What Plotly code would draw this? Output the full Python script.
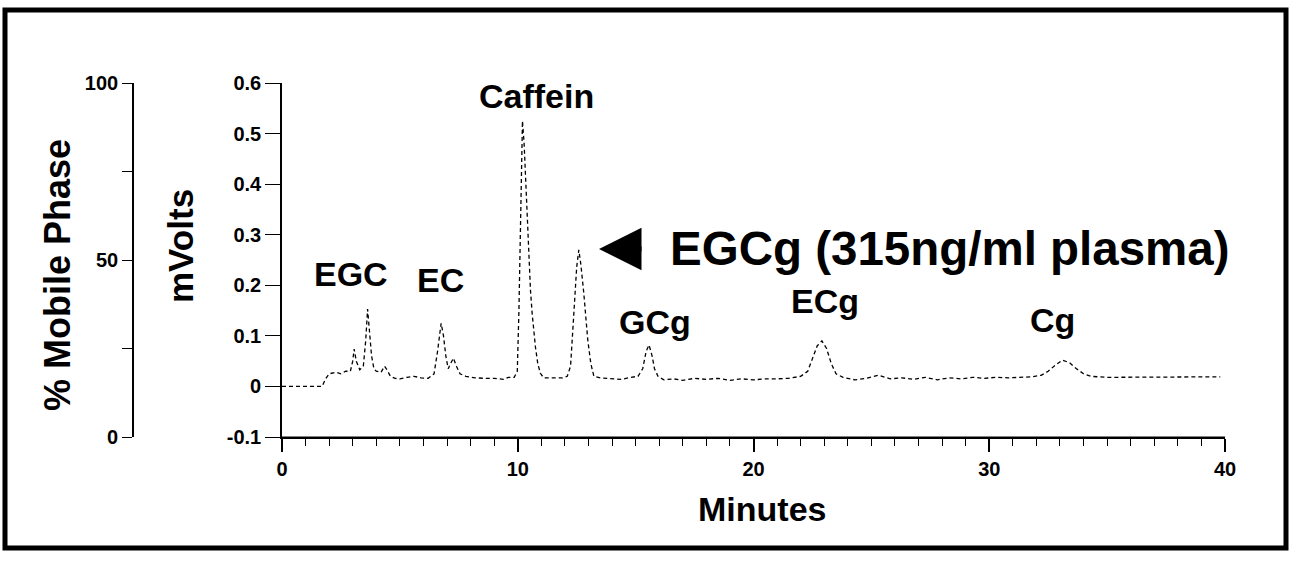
import plotly.graph_objects as go

# ---- data ----
time_min = [0, 1.7, 1.85, 2.0, 2.3, 2.5, 2.7, 2.9, 3.0, 3.06, 3.15, 3.3, 3.45, 3.55, 3.63, 3.7, 3.8, 3.9,
            4.0, 4.2, 4.35, 4.45, 4.6, 4.8, 5.0, 5.3, 5.6, 5.9, 6.2, 6.45, 6.6, 6.75, 6.85, 6.95, 7.05,
            7.15, 7.27, 7.4, 7.55, 7.8, 8.2, 8.6, 9.0, 9.4, 9.6, 9.85, 9.98, 10.05, 10.12, 10.2, 10.27,
            10.33, 10.4, 10.47, 10.54, 10.61, 10.68, 10.75, 10.85, 10.96, 11.1, 11.5, 11.9, 12.1, 12.24,
            12.38, 12.5, 12.59, 12.68, 12.8, 12.97, 13.1, 13.23, 13.5, 14.0, 14.4, 14.8, 15.1, 15.3,
            15.45, 15.57, 15.7, 15.8, 15.95, 16.2, 16.6, 17.0, 17.5, 18.0, 18.5, 19.0, 19.5, 20.0,
            20.5, 21.0, 21.5, 22.0, 22.3, 22.5, 22.7, 22.9, 23.1, 23.3, 23.5, 23.8, 24.3, 24.8, 25.3,
            25.8, 26.3, 26.8, 27.3, 27.8, 28.3, 28.8, 29.3, 29.8, 30.3, 30.8, 31.3, 31.8, 32.2, 32.5,
            32.8, 33.1, 33.4, 33.7, 34.0, 34.3, 35.0, 36.0, 37.0, 38.0, 39.0, 39.8]
mvolts = [0.0, 0.0, 0.015, 0.025, 0.028, 0.025, 0.03, 0.03, 0.05, 0.074, 0.05, 0.033, 0.04, 0.09, 0.153,
          0.12, 0.06, 0.035, 0.03, 0.028, 0.04, 0.033, 0.02, 0.016, 0.015, 0.018, 0.02, 0.017, 0.016,
          0.025, 0.07, 0.125, 0.1, 0.06, 0.035, 0.045, 0.056, 0.04, 0.025, 0.02, 0.017, 0.016, 0.016,
          0.014, 0.018, 0.018, 0.03, 0.15, 0.35, 0.525, 0.48, 0.41, 0.32, 0.244, 0.19, 0.145, 0.11,
          0.078, 0.045, 0.026, 0.017, 0.017, 0.017, 0.02, 0.04, 0.145, 0.236, 0.27, 0.24, 0.185, 0.092,
          0.045, 0.02, 0.017, 0.016, 0.014, 0.018, 0.02, 0.035, 0.07, 0.082, 0.06, 0.035, 0.02, 0.013,
          0.015, 0.012, 0.016, 0.014, 0.016, 0.012, 0.015, 0.013, 0.015, 0.015, 0.016, 0.02, 0.03,
          0.055, 0.08, 0.09, 0.075, 0.045, 0.025, 0.018, 0.013, 0.016, 0.022, 0.015, 0.017, 0.014,
          0.018, 0.013, 0.017, 0.015, 0.018, 0.016, 0.018, 0.017, 0.018, 0.019, 0.022, 0.03, 0.042,
          0.052, 0.047, 0.035, 0.025, 0.02, 0.018, 0.018, 0.019, 0.019, 0.019, 0.019]

mobile_time = [0, 40]
mobile_pct = [0, 0]

mv_ticks = [-0.1, 0, 0.1, 0.2, 0.3, 0.4, 0.5, 0.6]
mv_labels = ["-0.1", "0", "0.1", "0.2", "0.3", "0.4", "0.5", "0.6"]
pct_ticks = [0, 25, 50, 75, 100]
pct_labels = ["0", "", "50", "", "100"]
x_ticks = [0, 10, 20, 30, 40]

peak_labels = ["EGC", "EC", "Caffein", "GCg", "ECg", "Cg"]
# label placement in pixel space (x, y centre)
peak_label_px = [(351, 274), (440, 280), (536, 96), (655, 322), (825, 301), (1052, 320)]

W, H = 1291, 562
FONT = "Liberation Sans, Arial, Helvetica, sans-serif"

def px(x):
    return x / W

def py(y):
    return 1 - y / H

fig = go.Figure()
fig.add_trace(go.Scatter(x=time_min, y=mvolts, mode="lines",
                         line=dict(color="black", width=1.3, dash="4px,3px"),
                         showlegend=False, hoverinfo="skip"))
fig.add_trace(go.Scatter(x=mobile_time, y=mobile_pct, yaxis="y2", mode="lines",
                         line=dict(color="black", width=1),
                         showlegend=False, hoverinfo="skip"))

tickfont = dict(family=FONT, size=20, color="black", weight="bold")

fig.update_layout(
    width=W, height=H, autosize=False,
    margin=dict(l=0, r=0, t=0, b=0, pad=0),
    paper_bgcolor="white", plot_bgcolor="white",
    xaxis=dict(domain=[px(282), px(1225)], range=[0, 40], tickvals=x_ticks,
               ticks="outside", ticklen=13, tickwidth=1.6, tickcolor="black",
               minor=dict(dtick=1, ticks="outside", ticklen=7, tickwidth=1.2, tickcolor="black"),
               showline=True, linecolor="black", linewidth=1.8, showgrid=False,
               zeroline=False, tickfont=tickfont, anchor="y", automargin=False),
    yaxis=dict(domain=[py(437), py(83)], range=[-0.1, 0.6], tickvals=mv_ticks, ticktext=mv_labels,
               ticks="outside", ticklen=15, tickwidth=1.3, tickcolor="black",
               showline=True, linecolor="black", linewidth=1.6, showgrid=False,
               zeroline=False, tickfont=tickfont, anchor="x", automargin=False),
    yaxis2=dict(overlaying="y", anchor="free", position=px(133), side="left",
                range=[0, 100], tickvals=pct_ticks, ticktext=pct_labels,
                ticks="outside", ticklen=10, tickwidth=1.3, tickcolor="black",
                showline=True, linecolor="black", linewidth=1.6, showgrid=False,
                zeroline=False, tickfont=tickfont, automargin=False),
)

annotations = []
for lab, (lx, ly) in zip(peak_labels, peak_label_px):
    annotations.append(dict(x=px(lx), y=py(ly), xref="paper", yref="paper", text=lab,
                            showarrow=False, xanchor="center", yanchor="middle",
                            font=dict(family=FONT, size=34, color="black", weight="bold")))

annotations += [
    dict(x=px(762), y=py(509), xref="paper", yref="paper", text="Minutes", showarrow=False,
         xanchor="center", yanchor="middle",
         font=dict(family=FONT, size=34, color="black", weight="bold")),
    dict(x=px(180), y=py(246), xref="paper", yref="paper", text="mVolts", showarrow=False,
         textangle=-90, xanchor="center", yanchor="middle",
         font=dict(family=FONT, size=35, color="black", weight="bold")),
    dict(x=px(58), y=py(275), xref="paper", yref="paper", text="% Mobile Phase", showarrow=False,
         textangle=-90, xanchor="center", yanchor="middle",
         font=dict(family=FONT, size=36, color="black", weight="bold")),
    dict(x=px(668), y=py(249), xref="paper", yref="paper", text="EGCg (315ng/ml plasma)",
         showarrow=False, xanchor="left", yanchor="middle",
         font=dict(family=FONT, size=47.5, color="black", weight="bold")),
    dict(x=px(599), y=py(249), xref="paper", yref="paper", text="", showarrow=True,
         ax=44, ay=0, arrowhead=2, arrowsize=1.7, arrowwidth=5, arrowcolor="black"),
]
fig.update_layout(annotations=annotations)

fig.add_shape(type="rect", xref="paper", yref="paper",
              x0=px(5), x1=px(1286), y0=py(548), y1=py(10),
              line=dict(color="black", width=5), fillcolor="rgba(0,0,0,0)")

fig.write_html("out.html")
